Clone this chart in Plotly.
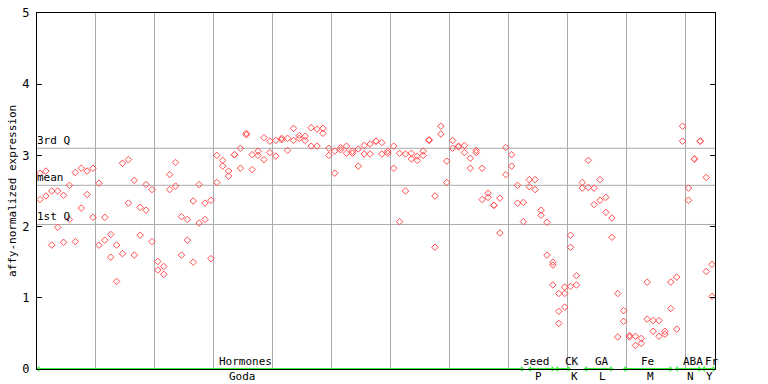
import plotly.graph_objects as go

# replicate values per sample position (1..115)
rep_a = [2.75, 2.78, 2.50, 2.50, 2.44, 2.58, 2.76, 2.82, 2.78, 2.82,
         2.61, 2.13, 1.89, 1.74, 2.89, 2.94, 2.65, 2.27, 2.59, 2.52,
         1.51, 1.44, 2.73, 2.90, 2.14, 2.10, 2.36, 2.59, 2.33, 2.37,
         3.00, 2.93, 2.78, 3.01, 3.10, 3.31, 3.01, 3.06, 3.25, 3.20,
         3.21, 3.24, 3.24, 3.38, 3.28, 3.27, 3.39, 3.37, 3.38, 3.10,
         3.06, 3.11, 3.13, 3.06, 3.09, 3.14, 3.16, 3.20, 3.18, 3.06,
         3.13, 3.03, 3.02, 3.03, 2.99, 3.06, 3.22, 2.43, 3.41, 2.92,
         3.21, 3.13, 3.14, 2.96, 3.07, 2.82, 2.47, 2.30, 2.40, 3.11,
         3.01, 2.58, 2.34, 2.66, 2.66, 2.23, 2.06, 1.50, 1.06, 1.15,
         1.88, 1.31, 2.62, 2.93, 2.54, 2.66, 2.41, 2.12, 1.06, 0.82,
         0.47, 0.46, 0.43, 1.22, 0.68, 0.68, 0.53, 1.22, 1.29, 3.41,
         2.54, 2.95, 3.20, 2.69, 1.47]
rep_b = [2.38, 2.43, 1.74, 1.99, 1.78, 2.10, 1.79, 2.26, 2.45, 2.13,
         1.74, 1.81, 1.57, 1.23, 1.62, 2.33, 1.60, 1.88, 2.23, 1.79,
         1.39, 1.33, 2.52, 2.57, 1.60, 1.81, 1.50, 2.05, 2.10, 1.55,
         2.62, 2.85, 2.71, 3.01, 2.82, 3.29, 2.80, 3.00, 2.94, 3.04,
         2.99, 3.22, 3.07, 3.21, 3.24, 3.21, 3.13, 3.13, 3.31, 3.00,
         2.75, 3.08, 3.03, 3.03, 2.85, 3.02, 3.02, 3.20, 3.02, 3.03,
         2.82, 2.07, 2.50, 2.95, 2.93, 3.00, 3.21, 1.71, 3.30, 2.62,
         3.10, 3.12, 3.04, 2.82, 3.04, 2.38, 2.41, 2.30, 1.91, 2.73,
         2.85, 2.33, 2.07, 2.56, 2.52, 2.16, 1.60, 1.18, 0.81, 1.06,
         1.71, 1.18, 2.54, 2.55, 2.31, 2.37, 2.20, 1.85, 0.45, 0.67,
         0.45, 0.33, 0.36, 0.70, 0.53, 0.46, 0.49, 0.85, 0.56, 3.20,
         2.37, 2.95, 3.20, 1.37, 1.02]
rep_c = [None] * 87 + [1.46, 0.64, 0.87, 1.16] + [None] * 24

# quartile reference lines
quart_names = ["3rd Q", "mean", "1st Q"]
quart_values = [3.10, 2.58, 2.03]

# experiment categories (label, sub-label, first index, last index, label centre)
cat_names = ["Hormones", "seed", "CK", "GA", "Fe", "ABA", "Fr"]
cat_subs = ["Goda", "P", "K", "L", "M", "N", "Y"]
cat_start = [0.2, 83.6, 88.2, 93.1, 99.7, 108.5, 113.1]
cat_end = [82.3, 87.5, 90.2, 97.4, 107.5, 112.4, 114.8]
cat_label_x = [35.3, 84.8, 90.7, 95.8, 103.6, 111.3, 114.5]
cat_sub_x = [34.9, 85.0, 91.1, 96.0, 104.0, 110.9, 114.0]

n = len(rep_a)
xs = [i + 0.5 for i in range(n)]
FONT = "DejaVu Sans Mono"
RED = "#ff4d4d"
GREEN = "#3cf03c"

fig = go.Figure()
for reps in (rep_a, rep_b, rep_c):
    px = [x for x, v in zip(xs, reps) if v is not None]
    py = [v for v in reps if v is not None]
    fig.add_trace(go.Scatter(x=px, y=py, mode="markers",
                             marker=dict(symbol="diamond-open", size=5, color=RED,
                                         line=dict(width=1, color=RED)),
                             showlegend=False, hoverinfo="y", cliponaxis=False))

shapes = []
annotations = []
for name, val in zip(quart_names, quart_values):
    shapes.append(dict(type="line", xref="paper", x0=0, x1=1, yref="y", y0=val, y1=val,
                       line=dict(color="#aaaaaa", width=1), layer="below"))
    annotations.append(dict(text=name, xref="paper", x=0, xanchor="left", xshift=-2,
                            yref="y", y=val, yanchor="bottom", yshift=-1, showarrow=False,
                            font=dict(family=FONT, size=11, color="black")))

# green category arrows
for s, e in zip(cat_start, cat_end):
    shapes.append(dict(type="line", xref="x", yref="y", x0=s, x1=e, y0=0, y1=0,
                       line=dict(color=GREEN, width=2)))
fig.add_trace(go.Scatter(x=cat_start, y=[0] * len(cat_start), mode="markers",
                         marker=dict(symbol="triangle-left", size=5, color=GREEN),
                         showlegend=False, hoverinfo="skip", cliponaxis=False))
fig.add_trace(go.Scatter(x=cat_end, y=[0] * len(cat_end), mode="markers",
                         marker=dict(symbol="triangle-right", size=5, color=GREEN),
                         showlegend=False, hoverinfo="skip", cliponaxis=False))

for name, lx in zip(cat_names, cat_label_x):
    annotations.append(dict(text=name, x=lx, xref="x", y=0, yref="y", yanchor="bottom",
                            yshift=-1, showarrow=False,
                            font=dict(family=FONT, size=11, color="black")))
for name, lx in zip(cat_subs, cat_sub_x):
    annotations.append(dict(text=name, x=lx, xref="x", y=0, yref="paper", yanchor="top",
                            yshift=1, showarrow=False,
                            font=dict(family=FONT, size=11, color="black")))

annotations.append(dict(text="affy-normalized expression", xref="paper", x=0, xshift=-25,
                        yref="paper", y=0.5, textangle=-90, showarrow=False,
                        xanchor="center", yanchor="middle",
                        font=dict(family=FONT, size=11, color="black")))

fig.update_layout(
    width=768, height=384,
    margin=dict(l=37, r=53, t=13, b=15, autoexpand=False),
    paper_bgcolor="white", plot_bgcolor="white",
    shapes=shapes, annotations=annotations,
    font=dict(family=FONT, size=11, color="black"),
    xaxis=dict(range=[0, n], tickvals=list(range(10, n, 10)), showticklabels=False,
               ticks="", showgrid=True, gridcolor="#aaaaaa", gridwidth=1, automargin=False,
               showline=True, linecolor="black", linewidth=1, mirror=True, zeroline=False),
    yaxis=dict(range=[0, 5], tickvals=[0, 1, 2, 3, 4, 5], ticks="inside", ticklen=5,
               tickcolor="black", showgrid=False, showline=True, linecolor="black",
               linewidth=1, mirror="ticks", zeroline=False, ticklabelstandoff=4,
               automargin=False,
               tickfont=dict(family=FONT, size=12, color="black")),
)

fig.write_html("out.html", config={"displayModeBar": False},
               post_script="document.body.style.margin='0';document.body.style.overflow='hidden';")
